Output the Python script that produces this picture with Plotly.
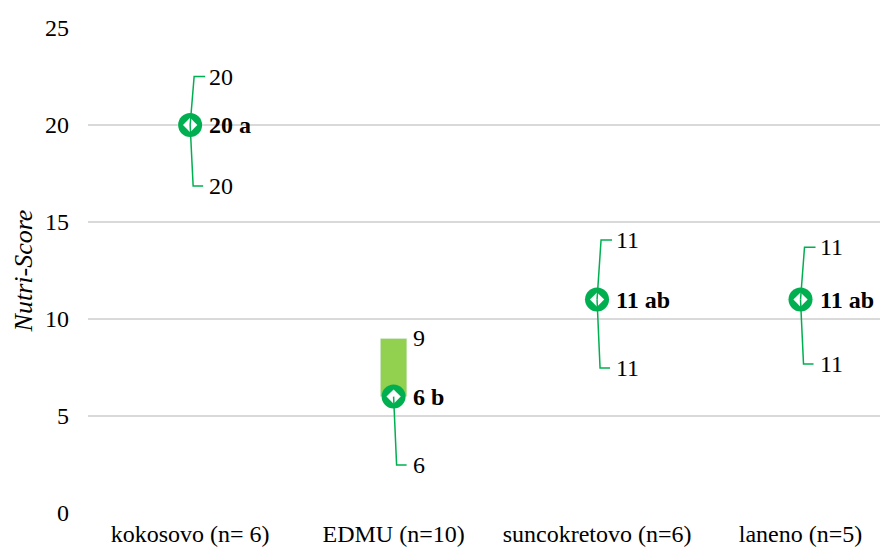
import plotly.graph_objects as go

categories = ["kokosovo (n= 6)", "EDMU (n=10)", "suncokretovo (n=6)", "laneno (n=5)"]
median_vals = [20, 6, 11, 11]
min_vals = [20, 6, 11, 11]
max_vals = [20, 9, 11, 11]
letters = ["a", "b", "ab", "ab"]
y_ticks = [0, 5, 10, 15, 20, 25]

# label placement (layout only, data units of the y axis)
top_label_y = [22.5, None, 14.07, 13.7]
bot_label_y = [16.85, 2.47, 7.47, 7.68]

GREEN = "#00B050"
BAR = "#92D050"
FONT = "Liberation Serif"
PXX = 203.3  # px per category unit

xs = list(range(len(categories)))
fig = go.Figure()

# floating range bar (min -> max)
fig.add_trace(go.Bar(
    x=xs, y=[mx - mn for mx, mn in zip(max_vals, min_vals)], base=min_vals,
    width=0.13, marker_color=BAR, hoverinfo="skip", showlegend=False))

# markers
fig.add_trace(go.Scatter(x=xs, y=median_vals, mode="markers",
                         marker=dict(symbol="circle", size=24, color=GREEN),
                         showlegend=False))
fig.add_trace(go.Scatter(x=xs, y=median_vals, mode="markers",
                         marker=dict(symbol="diamond", size=11, color="white"),
                         showlegend=False))

LBL = 24
shapes = []
annotations = []
for i, x in enumerate(xs):
    annotations.append(dict(x=x + 17 / PXX, y=median_vals[i], xref="x", yref="y",
                            text=f"<b>{median_vals[i]} {letters[i]}</b>", showarrow=False,
                            xanchor="left", yanchor="middle",
                            font=dict(family=FONT, size=LBL, color="black")))
    if top_label_y[i] is None:
        annotations.append(dict(x=x + 17 / PXX, y=max_vals[i], xref="x", yref="y",
                                text=str(max_vals[i]), showarrow=False,
                                xanchor="left", yanchor="middle",
                                font=dict(family=FONT, size=LBL, color="black")))
    else:
        ty = top_label_y[i]
        shapes.append(dict(type="path", xref="x", yref="y",
                           path=f"M {x},{median_vals[i]} L {x + 4 / PXX},{ty} L {x + 15 / PXX},{ty}",
                           line=dict(color=GREEN, width=1.5), layer="above"))
        annotations.append(dict(x=x + 17 / PXX, y=ty, xref="x", yref="y",
                                text=str(max_vals[i]), showarrow=False,
                                xanchor="left", yanchor="middle",
                                font=dict(family=FONT, size=LBL, color="black")))
    by = bot_label_y[i]
    shapes.append(dict(type="path", xref="x", yref="y",
                       path=f"M {x},{median_vals[i]} L {x + 3 / PXX},{by} L {x + 13 / PXX},{by}",
                       line=dict(color=GREEN, width=1.5), layer="above"))
    annotations.append(dict(x=x + 17 / PXX, y=by, xref="x", yref="y",
                            text=str(min_vals[i]), showarrow=False,
                            xanchor="left", yanchor="middle",
                            font=dict(family=FONT, size=LBL, color="black")))

fig.update_layout(
    width=880, height=544,
    margin=dict(l=80, r=0, t=20, b=39),
    plot_bgcolor="white", paper_bgcolor="white",
    font=dict(family=FONT, size=24, color="black"),
    shapes=shapes, annotations=annotations,
    xaxis=dict(range=[-0.502, 3.43], tickvals=xs, ticktext=categories,
               showgrid=False, zeroline=False, showline=False,
               ticklabelstandoff=4, tickfont=dict(size=24)),
    yaxis=dict(range=[0, 25], tickvals=y_ticks, showgrid=True, gridcolor="#D9D9D9",
               gridwidth=1.5, zeroline=False, showline=False,
               ticklabelstandoff=18, tickfont=dict(size=24),
               title=dict(text="<i>Nutri-Score</i>", font=dict(size=26), standoff=4)),
)

fig.write_html("out.html")
